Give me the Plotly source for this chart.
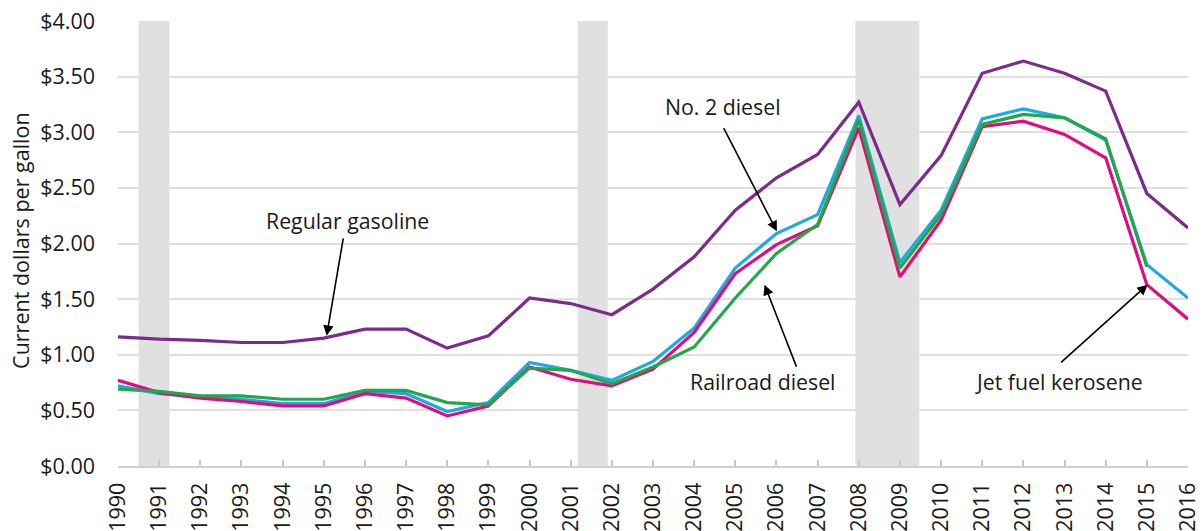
import plotly.graph_objects as go

years = list(range(1990, 2017))
gasoline = [1.16, 1.14, 1.13, 1.11, 1.11, 1.15, 1.23, 1.23, 1.06, 1.17, 1.51, 1.46, 1.36, 1.59,
            1.88, 2.30, 2.59, 2.80, 3.27, 2.35, 2.79, 3.53, 3.64, 3.53, 3.37, 2.45, 2.14]
no2_diesel = [0.72, 0.65, 0.62, 0.60, 0.56, 0.56, 0.67, 0.65, 0.49, 0.57, 0.93, 0.86, 0.77, 0.94,
              1.24, 1.78, 2.09, 2.26, 3.15, 1.83, 2.30, 3.12, 3.21, 3.13, 2.93, 1.81, 1.51]
jet_fuel = [0.77, 0.66, 0.61, 0.58, 0.54, 0.54, 0.65, 0.61, 0.45, 0.54, 0.89, 0.78, 0.72, 0.87,
            1.20, 1.73, 1.99, 2.16, 3.04, 1.70, 2.21, 3.05, 3.10, 2.98, 2.77, 1.63, 1.32]
railroad = [0.69, 0.67, 0.63, 0.63, 0.60, 0.60, 0.68, 0.68, 0.57, 0.55, 0.88, 0.86, 0.74, 0.89,
            1.07, 1.51, 1.91, 2.17, 3.11, 1.78, 2.26, 3.07, 3.16, 3.13, 2.94, 1.79, None]

rec_start = [1990.5, 2001.17, 2007.92]
rec_end = [1991.25, 2001.9, 2009.47]

y_ticks = [0, 0.5, 1.0, 1.5, 2.0, 2.5, 3.0, 3.5, 4.0]
y_labels = ["$%.2f" % v for v in y_ticks]

FONT = "Open Sans"
TXT = "#1a1a1a"
fig = go.Figure()

series = [
    ("Regular gasoline", gasoline, "#7B2C8B"),
    ("No. 2 diesel", no2_diesel, "#1DA9E1"),
    ("Jet fuel kerosene", jet_fuel, "#E5097F"),
    ("Railroad diesel", railroad, "#22A84A"),
]
for name, vals, col in series:
    fig.add_trace(go.Scatter(x=years, y=vals, name=name, mode="lines",
                             line=dict(color=col, width=3.2), connectgaps=False))

for s, e in zip(rec_start, rec_end):
    fig.add_shape(type="rect", xref="x", yref="paper", x0=s, x1=e, y0=0, y1=1,
                  fillcolor="#E0E0E0", line=dict(width=0), layer="between")

# text labels
labels = [
    ("Regular gasoline", 1995.57, 2.21),
    ("No. 2 diesel", 2004.70, 3.23),
    ("Railroad diesel", 2005.68, 0.76),
    ("Jet fuel kerosene", 2012.86, 0.76),
]
for t, x, y in labels:
    fig.add_annotation(x=x, y=y, xref="x", yref="y", text=t, showarrow=False,
                       font=dict(family=FONT, size=21.3, color=TXT))

arrows = [
    (1995.48, 2.06, 1995.07, 1.17),
    (2004.70, 3.05, 2006.01, 2.11),
    (2006.50, 0.88, 2005.71, 1.63),
    (2012.88, 0.92, 2015.02, 1.63),
]
for ax, ay, x, y in arrows:
    fig.add_annotation(x=x, y=y, ax=ax, ay=ay, xref="x", yref="y", axref="x", ayref="y",
                       text="", showarrow=True, arrowhead=2, arrowsize=1.3,
                       arrowwidth=1.6, arrowcolor="#000000")

fig.add_annotation(xref="paper", yref="paper", x=-0.0907, y=0.508, text="Current dollars per gallon",
                   textangle=-90, showarrow=False, xanchor="center", yanchor="middle",
                   font=dict(family=FONT, size=21.5, color=TXT))

fig.update_layout(
    width=1203, height=531,
    margin=dict(l=118, r=15, t=21, b=65),
    paper_bgcolor="white", plot_bgcolor="white",
    showlegend=False,
    font=dict(family=FONT, size=21, color=TXT),
    xaxis=dict(range=[1990, 2016], tickmode="array", tickvals=years,
               ticktext=[str(y) for y in years], tickangle=-90,
               showgrid=False, zeroline=False, showline=True, linecolor="#D0D0D0",
               linewidth=2, ticks="inside", ticklen=6, tickcolor="#C8C8C8", tickwidth=1.5,
               ticklabelstandoff=6,
               tickfont=dict(family=FONT, size=21.5, color=TXT), automargin=False),
    yaxis=dict(range=[0, 4], tickmode="array", tickvals=y_ticks, ticktext=y_labels,
               showgrid=True, gridcolor="#E0E0E0", gridwidth=2, zeroline=False,
               showline=False, ticks="", ticklabelstandoff=22,
               tickfont=dict(family=FONT, size=21.5, color=TXT), automargin=False),
)

fig.write_html("out.html", config={"displayModeBar": False},
               post_script="document.body.style.margin='0px';")
